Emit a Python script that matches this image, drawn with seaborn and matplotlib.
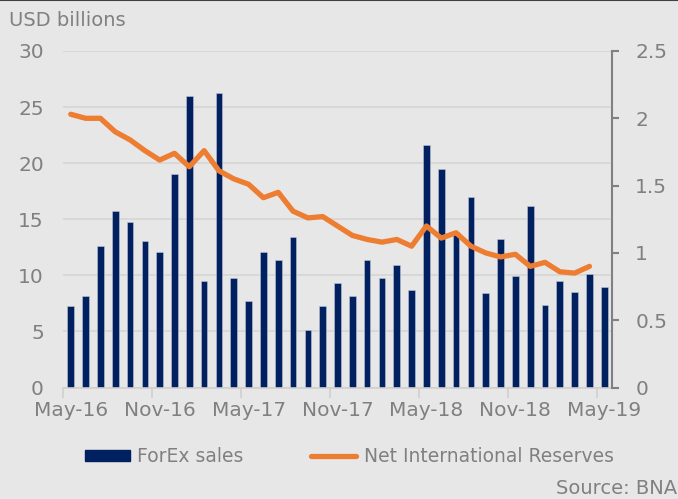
import numpy as np
import pandas as pd
import matplotlib
matplotlib.use("Agg")
import matplotlib.pyplot as plt
import seaborn as sns
from matplotlib.patches import Patch
from matplotlib.lines import Line2D

# Data: monthly, May-16 .. May-19
months = pd.date_range("2016-05-01", "2019-05-01", freq="MS").strftime("%b-%y").tolist()
forex_sales = [7.3, 8.2, 12.6, 15.7, 14.8, 13.1, 12.1, 19.0, 26.0, 9.5,
               26.3, 9.8, 7.7, 12.1, 11.4, 13.4, 5.1, 7.3, 9.3, 8.2,
               11.4, 9.8, 10.9, 8.7, 21.6, 19.5, 13.9, 17.0, 8.4, 13.2,
               9.9, 16.2, 7.4, 9.5, 8.5, 10.1, 9.0]
# Net international reserves (right axis), May-16 .. Apr-19
nir = [2.03, 2.00, 2.00, 1.90, 1.84, 1.76, 1.69, 1.74, 1.64, 1.76,
       1.61, 1.55, 1.51, 1.41, 1.45, 1.31, 1.26, 1.27, 1.20, 1.13,
       1.10, 1.08, 1.10, 1.05, 1.20, 1.11, 1.15, 1.05, 1.00, 0.97,
       0.99, 0.90, 0.93, 0.86, 0.85, 0.90]
label_months = ["May-16", "Nov-16", "May-17", "Nov-17", "May-18", "Nov-18", "May-19"]

bg = "#e7e7e7"
navy = "#002060"
orange = "#ED7D31"
grey = "#808080"

df = pd.DataFrame({"month": months, "forex": forex_sales})

fig = plt.figure(figsize=(6.78, 4.99), dpi=100, facecolor=bg)
ax = fig.add_axes([0.0934, 0.2234, 0.8088, 0.6744])
ax.set_facecolor(bg)

sns.barplot(data=df, x="month", y="forex", color=navy, width=0.45,
            edgecolor="#c0c6d8", linewidth=0.4, saturation=1, ax=ax, zorder=2)
ax.set_xlim(-0.5, len(months) - 0.5)
ax.set_ylim(0, 30)
ax.set_yticks(np.arange(0, 31, 5))
ax.yaxis.grid(True, color="#d5d5d5", lw=1.2, zorder=0)
ax.set_axisbelow(True)
ax.set_xlabel("")
ax.set_ylabel("")
for s in ["top", "right", "left"]:
    ax.spines[s].set_visible(False)
ax.spines["bottom"].set_color("#cfcfcf")
ax.spines["bottom"].set_linewidth(1.2)
ax.tick_params(axis="y", length=0, pad=14, labelsize=14.5, labelcolor=grey)

# x axis: marks at 6-month boundaries, labels at month centres
pos = [months.index(m) for m in label_months]
ax.set_xticks([p - 0.5 for p in pos])
ax.set_xticklabels([""] * len(pos))
ax.set_xticks(pos, minor=True)
ax.set_xticklabels(label_months, minor=True)
ax.tick_params(axis="x", which="major", length=7, width=1.2, color="#cfcfcf")
ax.tick_params(axis="x", which="minor", length=0, pad=10, labelsize=14.5, labelcolor=grey)

ax2 = ax.twinx()
ax2.patch.set_visible(False)
sns.lineplot(x=np.arange(len(nir)), y=nir, color=orange, lw=3.8, ax=ax2,
             solid_joinstyle="round", solid_capstyle="round")
ax2.set_ylim(0, 2.5)
ax2.set_yticks(np.arange(0, 2.51, 0.5))
ax2.set_yticklabels(["0", "0.5", "1", "1.5", "2", "2.5"])
for s in ["top", "left", "bottom"]:
    ax2.spines[s].set_visible(False)
ax2.spines["right"].set_color(grey)
ax2.spines["right"].set_linewidth(1.5)
ax2.tick_params(axis="y", length=5, width=1.5, color=grey, pad=12,
                labelsize=14.5, labelcolor=grey)

fig.text(0.013, 0.958, "USD billions", fontsize=14, color=grey, va="center")
fig.text(0.998, 0.002, "Source: BNA", fontsize=14, color=grey, ha="right", va="bottom")

handles = [Patch(facecolor=navy, edgecolor=navy),
           Line2D([0], [0], color=orange, lw=3.8, solid_capstyle="round")]
fig.legend(handles, ["ForEx sales", "Net International Reserves"],
           loc="center", bbox_to_anchor=(0.515, 0.085), ncol=2, frameon=False,
           fontsize=13.5, labelcolor=grey, handlelength=2.4, handleheight=0.55,
           handletextpad=0.4, columnspacing=3.6)

fig.add_artist(Line2D([0, 1], [0.999, 0.999], color="#404040", lw=1.5,
                      transform=fig.transFigure))

fig.savefig("out.png", dpi=100, facecolor=bg)
